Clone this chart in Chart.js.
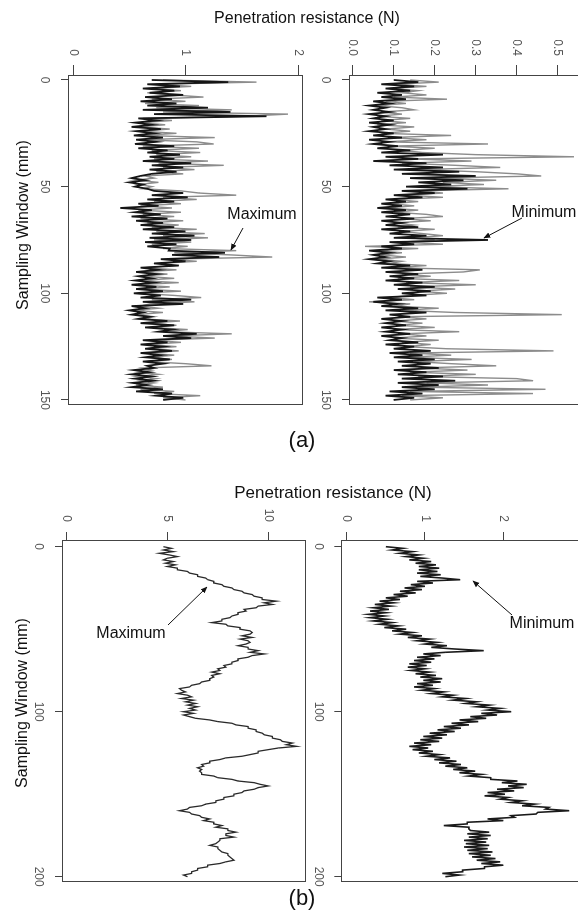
<!DOCTYPE html>
<html>
<head>
<meta charset="utf-8">
<script src="https://cdn.jsdelivr.net/npm/chart.js@4.4.1/dist/chart.umd.min.js"></script>
<style>
  html, body { margin: 0; padding: 0; background: #fff; }
  body { width: 578px; height: 921px; overflow: hidden; position: relative; font-family: "Liberation Sans", Arial, sans-serif; }
  canvas.panel { position: absolute; transform-origin: 0 0; }
  .lbl { position: absolute; transform: translate(-50%, -50%); white-space: nowrap; color: #111; z-index: 6; }
  .lbl.v { transform: translate(-50%, -50%) rotate(-90deg); }
</style>
</head>
<body>

<canvas id="maxA" class="panel"></canvas>
<canvas id="minA" class="panel"></canvas>
<canvas id="maxB" class="panel"></canvas>
<canvas id="minB" class="panel"></canvas>

<div class="lbl" style="left:307px; top:18px; font-size:16px;">Penetration resistance (N)</div>
<div class="lbl v" style="left:23px; top:225px; font-size:16px;">Sampling Window (mm)</div>
<div class="lbl" style="left:262px; top:214px; font-size:16px;">Maximum</div>
<div class="lbl" style="left:544px; top:212px; font-size:16px;">Minimum</div>
<div class="lbl" style="left:302px; top:440px; font-size:22px;">(a)</div>

<div class="lbl" style="left:333px; top:493px; font-size:17px;">Penetration resistance (N)</div>
<div class="lbl v" style="left:22px; top:703px; font-size:16px;">Sampling Window (mm)</div>
<div class="lbl" style="left:131px; top:633px; font-size:16px;">Maximum</div>
<div class="lbl" style="left:542px; top:623px; font-size:16px;">Minimum</div>
<div class="lbl" style="left:302px; top:898px; font-size:22px;">(b)</div>

<svg width="578" height="921" style="position:absolute; left:0; top:0; z-index:5;">
  <defs>
    <marker id="ah" viewBox="0 0 10 10" refX="9" refY="5" markerWidth="7" markerHeight="7" orient="auto">
      <path d="M0,1 L10,5 L0,9 z" fill="#111"/>
    </marker>
  </defs>
  <g stroke="#111" stroke-width="1" marker-end="url(#ah)">
    <line x1="243" y1="228" x2="231" y2="250"/>
    <line x1="522" y1="218" x2="484" y2="238"/>
    <line x1="168" y1="625" x2="207" y2="587"/>
    <line x1="512" y1="615" x2="473" y2="581"/>
  </g>
</svg>

<script>
// sampling positions (mm)
const windowA = Array.from({length: 151}, (_, i) => i);
const windowB = Array.from({length: 201}, (_, i) => i);

// tick labels
const ticksWindowA = [0, 50, 100, 150];
const ticksWindowB = [0, 100, 200];
const ticksMaxA = [0, 1, 2];
const ticksMinA = [0, 0.1, 0.2, 0.3, 0.4, 0.5];
const ticksMaxB = [0, 5, 10];
const ticksMinB = [0, 1, 2, 3];

// (a) maximum, penetration resistance (N)
const maxA_black = [0.70,1.38,0.66,0.95,0.62,0.90,0.68,0.98,0.64,0.88,
  0.60,0.92,0.66,1.20,0.62,1.40,0.72,1.72,0.58,0.74,
  0.55,0.70,0.52,0.78,0.56,0.72,0.54,0.80,0.56,0.74,
  0.55,0.90,0.58,0.84,0.66,0.95,0.68,0.90,0.62,1.05,
  0.70,0.98,0.68,0.92,0.70,0.60,0.52,0.64,0.50,0.62,
  0.55,0.66,0.72,0.98,0.70,1.02,0.66,0.90,0.58,0.76,
  0.42,0.70,0.55,0.78,0.52,0.84,0.56,0.80,0.60,0.90,
  0.62,1.00,0.70,1.08,0.68,1.05,0.64,0.92,0.66,0.86,
  0.85,1.35,0.88,1.30,0.78,1.00,0.72,0.94,0.60,0.76,
  0.56,0.74,0.58,0.70,0.55,0.72,0.52,0.74,0.56,0.80,
  0.54,0.78,0.60,1.05,0.62,0.98,0.52,0.64,0.50,0.62,
  0.52,0.68,0.58,0.84,0.60,0.90,0.64,0.88,0.76,1.10,
  0.80,1.05,0.62,0.84,0.60,0.80,0.64,0.88,0.60,0.78,
  0.64,0.86,0.62,0.80,0.66,0.72,0.54,0.68,0.52,0.70,
  0.55,0.72,0.53,0.66,0.52,0.80,0.56,0.88,0.74,0.98,
  0.80];
const maxA_gray = [0.80,1.63,0.74,1.05,0.70,0.96,0.66,0.88,1.16,0.70,
  1.00,0.64,1.12,0.74,1.41,0.80,1.91,1.53,0.62,0.88,
  0.60,0.82,0.58,0.86,0.60,0.92,0.62,1.26,0.60,1.10,
  1.25,0.62,1.12,0.70,1.13,0.74,1.05,0.72,1.20,0.76,
  1.34,0.80,1.08,0.74,0.98,0.64,0.72,0.55,0.76,0.58,
  0.70,0.62,0.96,1.12,1.45,0.80,1.10,0.72,0.96,0.60,
  0.88,0.58,0.96,0.62,0.90,0.60,0.98,0.66,0.94,0.70,
  1.10,0.74,1.17,0.80,1.20,0.72,1.05,0.70,1.02,0.80,
  1.45,0.90,1.40,1.77,0.86,1.10,0.76,0.88,0.64,0.92,
  0.60,0.84,0.62,0.90,0.58,0.94,0.56,0.86,0.60,0.96,
  0.58,0.90,1.14,0.70,1.08,0.68,0.60,0.76,0.55,0.80,
  0.56,0.72,0.62,0.95,0.66,0.92,0.70,1.02,0.80,1.41,
  0.86,1.26,0.70,0.96,0.66,0.92,0.68,0.94,0.64,0.90,
  0.70,0.88,0.66,1.00,1.23,0.62,0.70,0.58,0.76,0.57,
  0.74,0.60,0.72,0.56,0.80,0.60,0.90,0.72,1.13,0.80,
  1.00];

// (a) minimum
const minA_black = [0.10,0.16,0.07,0.15,0.08,0.14,0.06,0.12,0.07,0.13,
  0.05,0.09,0.04,0.08,0.05,0.09,0.04,0.08,0.05,0.10,
  0.04,0.09,0.05,0.08,0.04,0.10,0.05,0.12,0.04,0.09,
  0.05,0.11,0.06,0.14,0.07,0.22,0.08,0.16,0.05,0.18,
  0.09,0.22,0.10,0.26,0.12,0.30,0.14,0.27,0.16,0.24,
  0.13,0.28,0.12,0.20,0.10,0.17,0.08,0.13,0.07,0.12,
  0.06,0.13,0.07,0.14,0.08,0.15,0.07,0.12,0.08,0.16,
  0.07,0.14,0.09,0.18,0.10,0.33,0.09,0.15,0.07,0.12,
  0.04,0.09,0.05,0.08,0.04,0.09,0.06,0.14,0.07,0.17,
  0.08,0.16,0.09,0.15,0.08,0.17,0.10,0.20,0.11,0.19,
  0.12,0.18,0.06,0.12,0.05,0.11,0.07,0.16,0.08,0.18,
  0.09,0.14,0.07,0.12,0.08,0.13,0.07,0.12,0.08,0.14,
  0.07,0.12,0.09,0.16,0.08,0.15,0.10,0.19,0.09,0.17,
  0.10,0.20,0.11,0.19,0.12,0.21,0.10,0.18,0.11,0.22,
  0.12,0.25,0.11,0.21,0.12,0.20,0.09,0.17,0.08,0.15,
  0.10];
const minA_gray = [0.14,0.21,0.10,0.18,0.09,0.16,0.12,0.18,0.10,0.23,
  0.08,0.13,0.06,0.12,0.15,0.07,0.12,0.06,0.14,0.07,
  0.13,0.06,0.15,0.08,0.14,0.07,0.24,0.09,0.18,0.08,
  0.33,0.09,0.20,0.12,0.17,0.30,0.54,0.14,0.29,0.12,
  0.25,0.36,0.16,0.30,0.40,0.46,0.20,0.35,0.22,0.32,
  0.18,0.38,0.16,0.22,0.13,0.22,0.10,0.16,0.09,0.15,
  0.08,0.16,0.10,0.18,0.22,0.12,0.19,0.10,0.15,0.11,
  0.20,0.12,0.17,0.22,0.14,0.20,0.12,0.22,0.03,0.16,
  0.06,0.12,0.07,0.13,0.06,0.12,0.09,0.18,0.10,0.31,
  0.27,0.12,0.19,0.11,0.26,0.13,0.30,0.14,0.25,0.16,
  0.23,0.14,0.09,0.15,0.04,0.14,0.10,0.21,0.12,0.25,
  0.51,0.11,0.18,0.10,0.17,0.11,0.20,0.10,0.26,0.12,
  0.18,0.10,0.21,0.12,0.19,0.13,0.23,0.49,0.14,0.24,
  0.13,0.29,0.15,0.24,0.35,0.16,0.28,0.14,0.30,0.16,
  0.40,0.44,0.18,0.33,0.16,0.47,0.14,0.44,0.12,0.22,
  0.14];

// (b) maximum
const maxB = [4.8,5.2,4.8,5.3,4.6,5.1,5.5,5.0,4.8,5.3,
  4.9,5.4,5.0,5.5,5.5,6.0,6.1,6.5,6.5,6.9,
  7.0,7.3,7.3,7.7,7.8,8.2,8.3,8.7,8.8,9.2,
  9.3,9.7,9.7,10.4,9.8,10.2,9.5,9.4,8.8,8.9,
  8.5,8.5,8.2,8.1,7.7,7.7,7.2,7.9,8.0,8.6,
  8.6,9.1,9.2,9.1,8.7,9.2,8.6,9.0,9.1,8.9,
  8.5,9.0,9.0,9.5,9.1,9.8,9.2,9.0,8.5,8.5,
  8.2,8.2,7.8,7.9,7.5,7.6,7.2,7.6,7.2,7.3,
  7.1,7.1,6.7,6.6,6.2,6.1,5.6,5.7,5.9,5.5,
  6.0,6.2,5.7,6.3,5.9,6.4,6.0,6.5,6.1,6.4,
  5.8,6.3,5.8,6.1,6.4,7.1,7.5,8.2,8.4,9.0,
  9.0,9.4,9.4,9.7,9.8,10.2,10.2,10.6,10.7,11.2,
  10.9,11.4,10.5,10.0,9.5,9.5,9.1,8.7,7.9,7.6,
  7.1,7.1,6.7,6.8,6.5,6.7,6.6,6.7,6.7,7.3,
  7.5,8.2,8.5,9.3,9.6,10.0,9.5,9.3,8.8,8.7,
  8.3,8.3,7.8,7.8,7.4,7.4,6.9,6.7,6.1,6.0,
  5.6,6.1,6.2,6.6,6.7,7.1,6.8,7.3,7.3,7.7,
  7.4,8.0,8.0,8.4,7.9,7.9,8.3,7.6,7.6,7.5,
  7.4,7.1,7.5,7.5,7.6,7.7,8.0,8.0,8.1,8.2,
  8.3,7.9,7.6,7.0,7.0,6.5,6.5,6.2,6.2,5.8,
  6.0];

// (b) minimum
const minB = [0.50,0.72,0.58,0.84,0.68,0.92,0.76,0.98,0.80,1.08,
  0.88,1.14,0.92,1.18,0.92,1.16,0.90,1.20,0.94,1.22,
  1.45,0.90,1.10,0.82,1.00,0.74,0.96,0.68,0.88,0.60,
  0.78,0.50,0.68,0.42,0.60,0.36,0.56,0.34,0.54,0.30,
  0.50,0.28,0.48,0.30,0.52,0.34,0.58,0.42,0.66,0.48,
  0.76,0.58,0.84,0.68,0.96,0.78,1.06,0.90,1.16,1.00,
  1.28,1.08,1.38,1.75,1.26,0.98,1.20,0.90,1.12,0.86,
  1.08,0.80,1.02,0.78,1.00,0.82,1.06,0.88,1.14,0.94,
  1.22,0.98,1.20,0.90,1.10,0.86,1.12,0.96,1.24,1.08,
  1.36,1.22,1.52,1.36,1.66,1.52,1.82,1.66,1.96,1.80,
  2.10,1.72,1.92,1.58,1.78,1.44,1.68,1.34,1.56,1.24,
  1.46,1.16,1.38,1.06,1.28,0.98,1.22,0.94,1.18,0.86,
  1.08,0.80,1.04,0.84,1.10,0.92,1.18,1.02,1.32,1.12,
  1.40,1.18,1.46,1.26,1.54,1.36,1.64,1.44,1.72,1.56,
  1.84,1.84,2.18,1.98,2.30,2.06,2.26,1.92,2.14,1.80,
  2.02,1.76,2.06,1.96,2.24,2.10,2.40,2.24,2.58,2.54,
  2.84,2.44,2.42,2.10,2.14,1.80,2.00,1.54,1.54,1.24,
  1.56,1.56,1.58,1.82,1.54,1.84,1.56,1.80,1.50,1.78,
  1.52,1.82,1.50,1.80,1.54,1.86,1.56,1.84,1.60,1.90,
  1.66,1.96,1.72,2.00,1.76,1.76,1.48,1.48,1.22,1.44,
  1.26];

// box round the plot area, like R's box()
const frame = {
  id: 'frame',
  afterDraw(chart) {
    const a = chart.chartArea;
    const c = chart.ctx;
    c.save();
    c.strokeStyle = '#444';
    c.lineWidth = 1;
    c.strokeRect(Math.round(a.left) + 0.5, Math.round(a.top) + 0.5,
      Math.round(a.right - a.left), Math.round(a.bottom - a.top));
    c.restore();
  }
};

function pts(xs, ys) {
  return ys.map((y, i) => ({x: xs[i], y: y}));
}

// each panel is drawn as an ordinary R-style plot and then turned 90deg clockwise
function panel(id, p) {
  const cv = document.getElementById(id);
  cv.width = p.h;
  cv.height = p.w;
  cv.style.left = p.left + 'px';
  cv.style.top = p.top + 'px';
  cv.style.width = p.h + 'px';
  cv.style.height = p.w + 'px';
  cv.style.transform = 'translate(' + p.w + 'px,0) rotate(90deg)';

  const tickFont = {family: 'Liberation Sans', size: 12};
  new Chart(cv.getContext('2d'), {
    type: 'line',
    data: {datasets: p.sets},
    options: {
      responsive: false,
      animation: false,
      layout: {padding: {left: 0, top: 20, right: 20, bottom: 0}},
      plugins: {legend: {display: false}, tooltip: {enabled: false}},
      scales: {
        x: {
          type: 'linear', position: 'bottom',
          min: p.xMin, max: p.xMax,
          afterBuildTicks: s => { s.ticks = p.xTicks.map(v => ({value: v})); },
          afterFit: s => { s.height = p.xh; },
          ticks: {autoSkip: false, maxRotation: 0, minRotation: 0, padding: 9,
            color: '#555', font: tickFont, callback: v => String(v)},
          grid: {drawOnChartArea: false, tickLength: 8, color: '#444'},
          border: {display: false}
        },
        y: {
          type: 'linear', position: 'left',
          min: p.yMin, max: p.yMax,
          afterBuildTicks: s => { s.ticks = p.yTicks.map(v => ({value: v})); },
          afterFit: s => { s.width = p.yw; },
          ticks: {autoSkip: false, padding: p.yPad, color: '#555', font: tickFont,
            callback: v => v.toFixed(p.dec)},
          grid: {drawOnChartArea: false, tickLength: p.yTick, color: '#444'},
          border: {display: false}
        }
      }
    },
    plugins: [frame]
  });
}

function trace(xs, ys, color, width) {
  return {data: pts(xs, ys), borderColor: color, borderWidth: width,
    pointRadius: 0, tension: 0, fill: false};
}

panel('maxA', {left: 20, top: 40, w: 303, h: 384, xh: 49, yw: 35,
  xMin: -2.34, xMax: 151.9, yMin: -0.036, yMax: 2.044,
  xTicks: ticksWindowA, yTicks: ticksMaxA, dec: 0, yTick: 10, yPad: 9,
  sets: [trace(windowA, maxA_black, '#151515', 1.8), trace(windowA, maxA_gray, '#8c8c8c', 1.4)]});

panel('minA', {left: 300, top: 40, w: 305, h: 384, xh: 50, yw: 35,
  xMin: -2.34, xMax: 151.9, yMin: -0.0066, yMax: 0.5666,
  xTicks: ticksWindowA, yTicks: ticksMinA, dec: 1, yTick: 10, yPad: 9,
  sets: [trace(windowA, minA_black, '#151515', 1.8), trace(windowA, minA_gray, '#8c8c8c', 1.4)]});

panel('maxB', {left: 10, top: 500, w: 316, h: 401, xh: 53, yw: 40,
  xMin: -4.06, xMax: 202.6, yMin: -0.17, yMax: 11.87,
  xTicks: ticksWindowB, yTicks: ticksMaxB, dec: 0, yTick: 8, yPad: 10,
  sets: [trace(windowB, maxB, '#2a2a2a', 1.3)]});

panel('minB', {left: 300, top: 500, w: 310, h: 401, xh: 42.3, yw: 40,
  xMin: -4.06, xMax: 202.6, yMin: -0.056, yMax: 3.107,
  xTicks: ticksWindowB, yTicks: ticksMinB, dec: 0, yTick: 8, yPad: 10,
  sets: [trace(windowB, minB, '#1a1a1a', 1.6)]});
</script>
</body>
</html>
